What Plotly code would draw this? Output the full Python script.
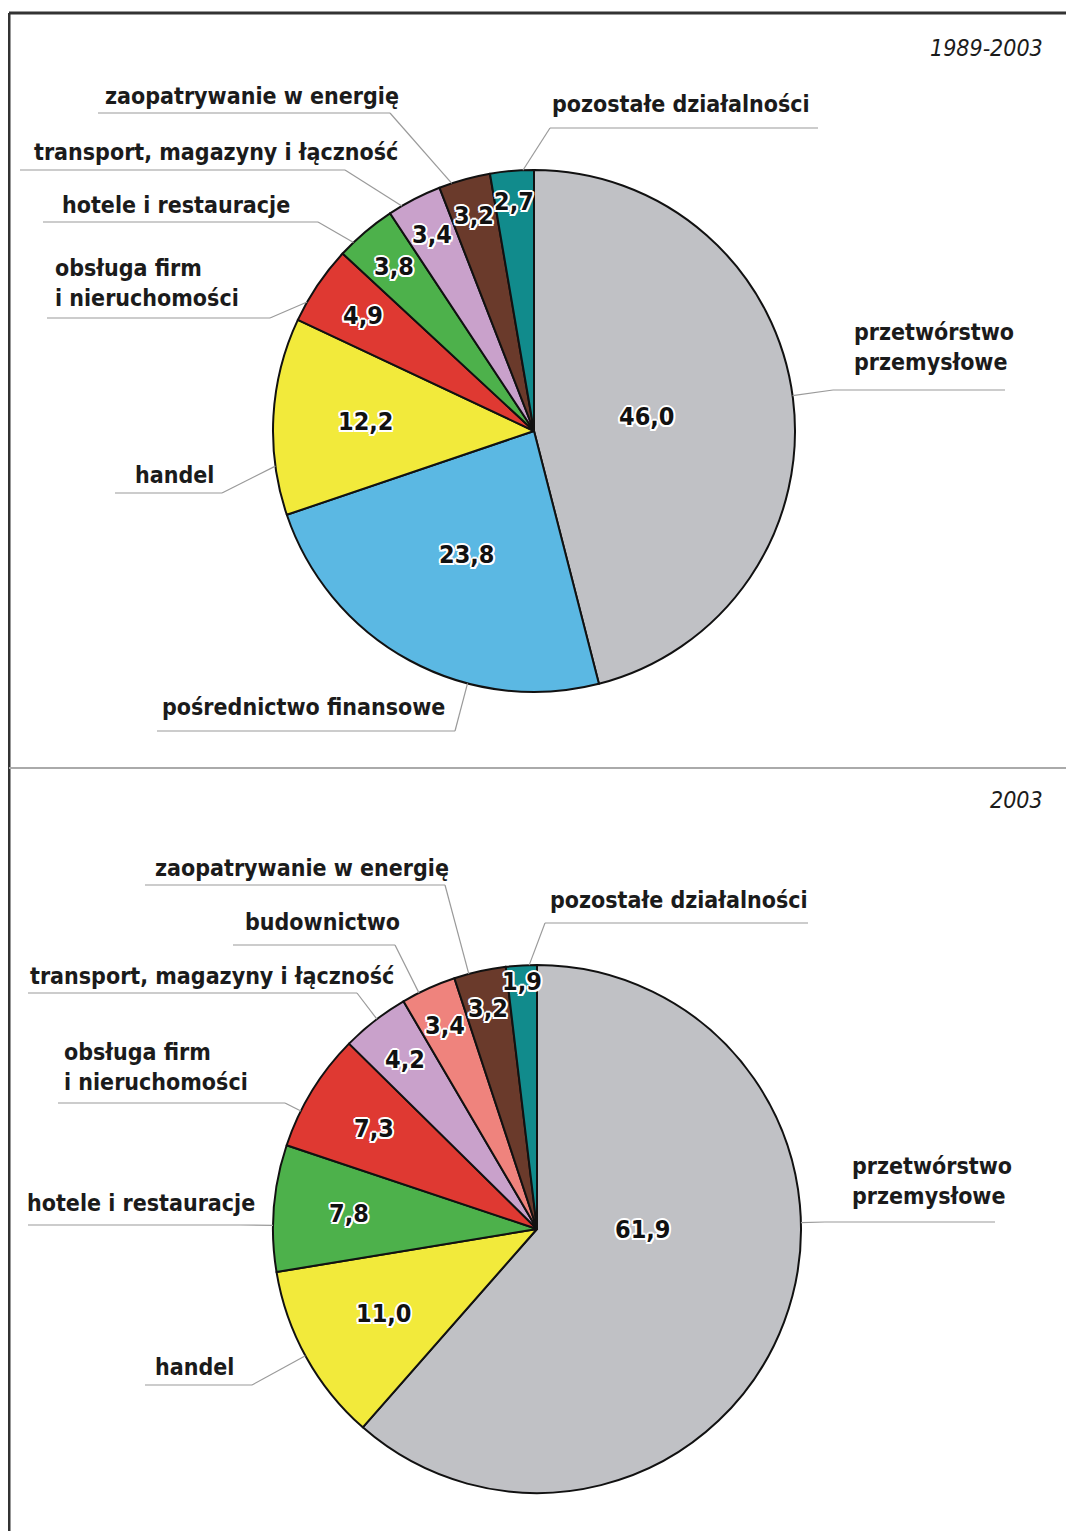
import math
import plotly.graph_objects as go

W, H = 1074, 1531
OFF = 8  # page body margin: shift coordinate system so pixels match the page

# ---------------- data ----------------
titles = ["1989-2003", "2003"]

cats_top = ["przetwórstwo przemysłowe", "pośrednictwo finansowe", "handel",
            "obsługa firm i nieruchomości", "hotele i restauracje",
            "transport, magazyny i łączność", "zaopatrywanie w energię",
            "pozostałe działalności"]
vals_top = [46.0, 23.8, 12.2, 4.9, 3.8, 3.4, 3.2, 2.7]

cats_bot = ["przetwórstwo przemysłowe", "handel", "hotele i restauracje",
            "obsługa firm i nieruchomości", "transport, magazyny i łączność",
            "budownictwo", "zaopatrywanie w energię", "pozostałe działalności"]
vals_bot = [61.9, 11.0, 7.8, 7.3, 4.2, 3.4, 3.2, 1.9]

# ---------------- styles ----------------
colors = {
    "przetwórstwo przemysłowe": "#C0C1C5",
    "pośrednictwo finansowe": "#5BB8E3",
    "handel": "#F2EA3B",
    "obsługa firm i nieruchomości": "#DF3932",
    "hotele i restauracje": "#4DB14B",
    "transport, magazyny i łączność": "#C9A1CB",
    "zaopatrywanie w energię": "#6A3A2B",
    "pozostałe działalności": "#118B8C",
    "budownictwo": "#EF837D",
}
display = {
    "przetwórstwo przemysłowe": "przetwórstwo<br>przemysłowe",
    "obsługa firm i nieruchomości": "obsługa firm<br>i nieruchomości",
}

FONT = "DejaVu Sans Condensed, Liberation Sans Narrow, Arial Narrow, sans-serif"
LABEL_SIZE = 23
NUM_SIZE = 25
TEXT_COL = "#1b1b1b"
LEADER_COL = "#9a9a9a"
HALO = ("2px 0 0 #fff, -2px 0 0 #fff, 0 2px 0 #fff, 0 -2px 0 #fff, "
        "1.5px 1.5px 0 #fff, -1.5px -1.5px 0 #fff, 1.5px -1.5px 0 #fff, -1.5px 1.5px 0 #fff")

# panel geometry in pixels: centre x, centre y, radius, title y
panels = [
    dict(cats=cats_top, vals=vals_top, title=titles[0], cx=534, cy=431, r=261, ty=48),
    dict(cats=cats_bot, vals=vals_bot, title=titles[1], cx=537, cy=1229, r=264, ty=800),
]

# label layout: text left x, text centre y, underline x0, x1, y, leader start side
label_layout = [
    {
        "przetwórstwo przemysłowe": (852, 347, 833, 1005, 390, "x0"),
        "pośrednictwo finansowe": (160, 707, 157, 455, 731, "x1"),
        "handel": (133, 475, 115, 222, 493, "x1"),
        "obsługa firm i nieruchomości": (53, 283, 47, 270, 318, "x1"),
        "hotele i restauracje": (60, 205, 43, 318, 222, "x1"),
        "transport, magazyny i łączność": (32, 152, 20, 345, 170, "x1"),
        "zaopatrywanie w energię": (103, 96, 98, 390, 113, "x1"),
        "pozostałe działalności": (550, 104, 550, 818, 128, "x0"),
    },
    {
        "przetwórstwo przemysłowe": (850, 1181, 825, 995, 1222, "x0"),
        "handel": (153, 1367, 145, 252, 1385, "x1"),
        "hotele i restauracje": (25, 1203, 28, 240, 1225, "x1"),
        "obsługa firm i nieruchomości": (62, 1067, 58, 285, 1103, "x1"),
        "transport, magazyny i łączność": (28, 976, 28, 357, 993, "x1"),
        "budownictwo": (243, 922, 233, 395, 945, "x1"),
        "zaopatrywanie w energię": (153, 868, 145, 445, 885, "x1"),
        "pozostałe działalności": (548, 900, 545, 808, 923, "x0"),
    },
]

fig = go.Figure()
shapes = []
annotations = []


def fmt(v):
    return f"{v:.1f}".replace(".", ",")


def clamp_angle(a, start, span, m=0.25):
    """Nearest angle to a inside the central part of a slice (degrees)."""
    rel = (a - start) % 360.0
    lo, hi = m * span, (1 - m) * span
    if lo <= rel <= hi:
        return start + rel
    if rel < lo:
        return start + lo
    if rel <= span:
        return start + hi
    # outside the slice: choose nearer edge
    return start + (lo if (360 - rel) < (rel - span) else hi)


for p, lay in zip(panels, label_layout):
    cx, cy, r = p["cx"], p["cy"], p["r"]
    fig.add_trace(go.Pie(
        labels=p["cats"], values=p["vals"], sort=False, direction="clockwise",
        rotation=0, textinfo="none", hoverinfo="skip", showlegend=False,
        marker=dict(colors=[colors[c] for c in p["cats"]],
                    line=dict(color="#111111", width=2)),
        domain=dict(x=[(cx - r - OFF) / W, (cx + r - OFF) / W],
                    y=[1 - (cy + r - OFF) / H, 1 - (cy - r - OFF) / H]),
    ))
    total = sum(p["vals"])
    cum = 0.0
    for c, v in zip(p["cats"], p["vals"]):
        start = cum / total * 360.0
        span = v / total * 360.0
        cum += v
        end = start + span
        if v / total > 0.5:
            mid = (start + min(end, 180.0)) / 2
        else:
            mid = start + span / 2
        ma = math.radians(mid)
        f = max(0.40, 1.04 - 0.158 * math.log(v))
        annotations.append(dict(
            x=cx + math.sin(ma) * r * f, y=cy - math.cos(ma) * r * f,
            xref="x", yref="y",
            text=f"<b>{fmt(v)}</b>", showarrow=False,
            font=dict(family=FONT, size=NUM_SIZE, color="#111", shadow=HALO)))
        # category label + underline + leader
        tx, ty, ux0, ux1, uy, side = lay[c]
        annotations.append(dict(
            x=tx, y=ty, xref="x", yref="y", xanchor="left", yanchor="middle",
            text=f"<b>{display.get(c, c)}</b>", showarrow=False, align="left",
            font=dict(family=FONT, size=LABEL_SIZE, color=TEXT_COL)))
        shapes.append(dict(type="line", xref="x", yref="y", x0=ux0, x1=ux1, y0=uy, y1=uy,
                           line=dict(color=LEADER_COL, width=1.2)))
        lx = ux0 if side == "x0" else ux1
        a_u = math.degrees(math.atan2(lx - cx, -(uy - cy))) % 360.0
        ea = math.radians(clamp_angle(a_u, start, span))
        shapes.append(dict(type="line", xref="x", yref="y", x0=lx, y0=uy,
                           x1=cx + math.sin(ea) * r, y1=cy - math.cos(ea) * r,
                           line=dict(color=LEADER_COL, width=1.2)))
    annotations.append(dict(
        x=1045, y=p["ty"], xref="x", yref="y", xanchor="right", yanchor="middle",
        text=f"<i>{p['title']}</i>", showarrow=False,
        font=dict(family=FONT, size=23, color=TEXT_COL)))

# frame and divider
shapes.append(dict(type="line", xref="x", yref="y", x0=9, x1=1090, y0=13, y1=13,
                   line=dict(color="#333", width=3)))
shapes.append(dict(type="line", xref="x", yref="y", x0=9, x1=9, y0=13, y1=1545,
                   line=dict(color="#333", width=3)))
shapes.append(dict(type="line", xref="x", yref="y", x0=9, x1=1090, y0=768, y1=768,
                   line=dict(color="#aaaaaa", width=2)))

fig.update_layout(
    width=W, height=H, margin=dict(l=0, r=0, t=0, b=0),
    paper_bgcolor="white", plot_bgcolor="rgba(0,0,0,0)",
    xaxis=dict(range=[OFF, W + OFF], visible=False, fixedrange=True),
    yaxis=dict(range=[H + OFF, OFF], visible=False, fixedrange=True),
    shapes=shapes, annotations=annotations, showlegend=False,
)

fig.write_html("out.html")
